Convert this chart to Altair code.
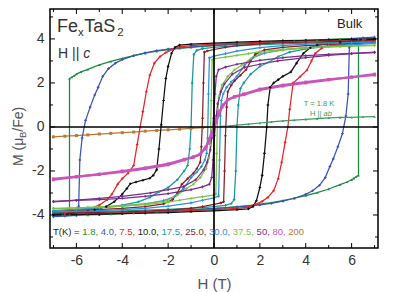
import altair as alt
import pandas as pd

F = "Liberation Sans"

# ---------------- data ----------------
T_NAMES = ["200", "1.8", "4.0", "7.5", "10.0", "17.5", "25.0", "30.0", "37.5", "50", "80", "ab"]
T_COLORS = ["#b87a35", "#1b8a3d", "#3a55b5", "#e8262b", "#111111", "#179b98",
            "#8b1e24", "#2b93d6", "#7cc243", "#7b2b8f", "#c955ba", "#3d9a5e"]

H200 = [-7.0, -6.5, -6.0, -5.5, -5.0, -4.5, -4.0, -3.5, -3.0, -2.5, -2.0, -1.5, -1.0, -0.5, 0.0]
M200 = [-0.45, -0.42, -0.39, -0.36, -0.32, -0.29, -0.26, -0.23, -0.19, -0.16, -0.13, -0.1, -0.06, -0.03, 0.0]

H18u = [7.0, 6.5, 6.0, 5.5, 5.0, 4.5, 4.0, 3.5, 3.0, 2.5, 2.0, 1.5, 1.0, 0.5, 0.0, -0.5, -1.0, -1.5, -2.0, -2.5,
        -3.0, -3.5, -4.0, -4.5, -5.0, -5.5, -5.8, -6.0, -6.1, -6.2, -6.3, -6.3, -6.6, -7.0]
M18u = [4.03, 4.02, 4.01, 4.0, 3.98, 3.96, 3.94, 3.91, 3.88, 3.85, 3.82, 3.79, 3.76, 3.73, 3.7, 3.66, 3.62, 3.57, 3.51, 3.44,
        3.35, 3.24, 3.12, 2.98, 2.82, 2.62, 2.5, 2.4, 2.33, 2.26, 2.2, -3.98, -4.0, -4.03]
H18d = [-7.0, -6.5, -6.0, -5.5, -5.0, -4.5, -4.0, -3.5, -3.0, -2.5, -2.0, -1.5, -1.0, -0.5, 0.0, 0.5, 1.0, 1.5, 2.0, 2.5,
        3.0, 3.5, 4.0, 4.5, 5.0, 5.5, 5.8, 6.0, 6.1, 6.2, 6.3, 6.3, 6.6, 7.0]
M18d = [-4.03, -4.02, -4.01, -4.0, -3.98, -3.96, -3.94, -3.91, -3.88, -3.85, -3.82, -3.79, -3.76, -3.73, -3.7, -3.66, -3.62, -3.57, -3.51, -3.44,
        -3.35, -3.24, -3.12, -2.98, -2.82, -2.62, -2.5, -2.4, -2.33, -2.26, -2.2, 3.98, 4.0, 4.03]

H40u = [7.0, 6.0, 5.0, 4.0, 3.0, 2.0, 1.0, 0.0, -1.0, -2.0, -2.5, -3.0, -3.5, -4.0, -4.3, -4.6, -4.85, -5.05, -5.2, -5.4,
        -5.6, -5.75, -5.85, -5.9, -6.0, -6.5, -7.0]
M40u = [4.0, 3.98, 3.95, 3.92, 3.88, 3.83, 3.77, 3.71, 3.64, 3.54, 3.47, 3.37, 3.24, 3.06, 2.9, 2.65, 2.3, 1.8, 1.45, 0.9,
        0.3, -0.5, -1.5, -3.6, -4.02, -4.05, -4.08]
H40d = [-7.0, -6.0, -5.0, -4.0, -3.0, -2.0, -1.0, 0.0, 1.0, 2.0, 2.5, 3.0, 3.5, 4.0, 4.3, 4.6, 4.85, 5.05, 5.2, 5.4,
        5.6, 5.75, 5.85, 5.9, 6.0, 6.5, 7.0]
M40d = [-4.0, -3.98, -3.95, -3.92, -3.88, -3.83, -3.77, -3.71, -3.64, -3.54, -3.47, -3.37, -3.24, -3.06, -2.9, -2.65, -2.3, -1.8, -1.45, -0.9,
        -0.3, 0.5, 1.5, 3.6, 4.02, 4.05, 4.08]

H75u = [7.0, 6.0, 5.0, 4.0, 3.0, 2.0, 1.0, 0.0, -1.0, -1.5, -1.8, -2.1, -2.35, -2.6, -2.8, -2.95, -3.1, -3.22, -3.35, -3.5,
        -3.75, -4.0, -4.2, -4.45, -4.65, -5.0, -5.5, -6.0, -6.5, -7.0]
M75u = [3.96, 3.95, 3.93, 3.91, 3.88, 3.84, 3.8, 3.76, 3.7, 3.64, 3.52, 3.38, 3.2, 2.9, 2.35, 1.6, 0.7, 0.0, -0.8, -1.75,
        -2.1, -2.35, -2.6, -3.05, -3.3, -3.55, -3.75, -3.88, -3.94, -3.99]
H75d = [-7.0, -6.0, -5.0, -4.0, -3.0, -2.0, -1.0, 0.0, 1.0, 1.5, 1.8, 2.1, 2.35, 2.6, 2.8, 2.95, 3.1, 3.22, 3.3, 3.45,
        3.75, 4.05, 4.25, 4.42, 4.7, 5.0, 5.5, 6.0, 6.5, 7.0]
M75d = [-3.96, -3.95, -3.93, -3.91, -3.88, -3.84, -3.8, -3.76, -3.7, -3.64, -3.52, -3.38, -3.2, -2.9, -2.35, -1.6, -0.7, 0.0, 0.8, 2.0,
        2.28, 2.58, 3.0, 3.35, 3.58, 3.7, 3.8, 3.88, 3.94, 3.99]

H10u = [7.0, 6.0, 5.0, 4.0, 3.0, 2.0, 1.0, 0.0, -1.0, -1.5, -1.7, -1.85, -2.0, -2.1, -2.2, -2.3, -2.4, -2.5, -2.65, -2.8,
        -3.1, -3.4, -3.65, -3.8, -4.0, -4.35, -4.7, -5.2, -6.0, -7.0]
M10u = [3.99, 3.98, 3.96, 3.94, 3.92, 3.89, 3.85, 3.81, 3.76, 3.72, 3.62, 3.35, 2.75, 2.2, 1.2, 0.1, -1.0, -1.95, -2.2, -2.33,
        -2.42, -2.5, -2.58, -2.8, -3.05, -3.4, -3.62, -3.76, -3.9, -3.98]
H10d = [-7.0, -6.0, -5.0, -4.0, -3.0, -2.0, -1.0, 0.0, 1.0, 1.5, 1.7, 1.85, 2.0, 2.1, 2.2, 2.3, 2.35, 2.45, 2.6, 2.8,
        3.0, 3.35, 3.6, 3.9, 4.2, 4.5, 5.0, 5.5, 6.0, 7.0]
M10d = [-3.99, -3.98, -3.96, -3.94, -3.92, -3.89, -3.85, -3.81, -3.76, -3.72, -3.62, -3.35, -2.75, -2.2, -1.2, 0.0, 1.0, 1.8, 2.0, 2.15,
        2.3, 2.5, 2.9, 3.35, 3.6, 3.72, 3.8, 3.86, 3.9, 3.98]

H175u = [7.0, 6.0, 5.0, 4.0, 3.0, 2.0, 1.0, 0.5, 0.0, -0.5, -0.75, -0.88, -0.95, -1.0, -1.06, -1.15, -1.3, -1.6, -2.0, -2.4,
         -2.8, -3.3, -4.0, -5.0, -6.0, -7.0]
M175u = [3.88, 3.86, 3.84, 3.81, 3.78, 3.74, 3.69, 3.66, 3.62, 3.56, 3.48, 3.3, 2.0, 0.0, -1.0, -1.75, -2.0, -2.4, -2.75, -2.95,
         -3.2, -3.4, -3.55, -3.68, -3.78, -3.86]
H175d = [-7.0, -6.0, -5.0, -4.0, -3.0, -2.0, -1.0, -0.5, 0.0, 0.5, 0.75, 0.88, 0.95, 1.0, 1.06, 1.15, 1.3, 1.6, 2.0, 2.4,
         2.8, 3.3, 4.0, 5.0, 6.0, 7.0]
M175d = [-3.88, -3.86, -3.84, -3.81, -3.78, -3.74, -3.69, -3.66, -3.62, -3.56, -3.48, -3.3, -2.0, 0.0, 1.0, 1.75, 2.0, 2.4, 2.75, 2.95,
         3.2, 3.4, 3.55, 3.68, 3.78, 3.86]

H25u = [7.0, 6.0, 5.0, 4.0, 3.0, 2.0, 1.0, 0.5, 0.0, -0.3, -0.42, -0.46, -0.5, -0.55, -0.6, -0.75, -0.9, -1.15, -1.4, -1.6,
        -1.8, -2.2, -3.0, -4.0, -5.5, -7.0]
M25u = [3.92, 3.9, 3.88, 3.86, 3.83, 3.78, 3.7, 3.62, 3.52, 3.45, 3.4, 2.0, 0.4, -0.9, -1.6, -1.9, -2.1, -2.35, -2.6, -3.0,
        -3.3, -3.5, -3.62, -3.7, -3.78, -3.84]
H25d = [-7.0, -6.0, -5.0, -4.0, -3.0, -2.0, -1.0, -0.5, 0.0, 0.3, 0.42, 0.46, 0.5, 0.55, 0.6, 0.75, 0.9, 1.15, 1.4, 1.6,
        1.8, 2.2, 3.0, 4.0, 5.5, 7.0]
M25d = [-3.92, -3.9, -3.88, -3.86, -3.83, -3.78, -3.7, -3.62, -3.52, -3.45, -3.4, -2.0, -0.4, 0.9, 1.6, 1.9, 2.1, 2.35, 2.6, 3.0,
        3.3, 3.5, 3.62, 3.7, 3.78, 3.84]

H30u = [7.0, 6.0, 5.0, 4.0, 3.0, 2.0, 1.0, 0.5, 0.0, -0.2, -0.24, -0.28, -0.32, -0.4, -0.55, -0.75, -1.0, -1.33, -1.7, -2.2,
        -3.0, -4.0, -5.5, -7.0]
M30u = [3.85, 3.83, 3.8, 3.76, 3.7, 3.6, 3.45, 3.33, 3.22, 3.14, 1.5, -0.5, -1.2, -1.5, -1.8, -2.05, -2.3, -2.8, -3.15, -3.35,
        -3.5, -3.6, -3.7, -3.8]
H30d = [-7.0, -6.0, -5.0, -4.0, -3.0, -2.0, -1.0, -0.5, 0.0, 0.2, 0.24, 0.28, 0.32, 0.4, 0.55, 0.75, 1.0, 1.33, 1.7, 2.2,
        3.0, 4.0, 5.5, 7.0]
M30d = [-3.85, -3.83, -3.8, -3.76, -3.7, -3.6, -3.45, -3.33, -3.22, -3.14, -1.5, 0.5, 1.2, 1.5, 1.8, 2.05, 2.3, 2.8, 3.15, 3.35,
        3.5, 3.6, 3.7, 3.8]

H375u = [7.0, 6.0, 5.0, 4.0, 3.0, 2.0, 1.5, 1.0, 0.5, 0.0, -0.08, -0.12, -0.16, -0.22, -0.35, -0.6, -0.9, -1.2, -1.6, -2.05,
         -3.0, -4.0, -5.5, -7.0]
M375u = [3.7, 3.68, 3.65, 3.6, 3.53, 3.42, 3.33, 3.25, 3.17, 3.1, 3.05, 1.2, -0.8, -1.4, -1.9, -2.3, -2.6, -2.8, -3.1, -3.35,
         -3.5, -3.58, -3.65, -3.72]
H375d = [-7.0, -6.0, -5.0, -4.0, -3.0, -2.0, -1.5, -1.0, -0.5, 0.0, 0.08, 0.12, 0.16, 0.22, 0.35, 0.6, 0.9, 1.2, 1.6, 2.05,
         3.0, 4.0, 5.5, 7.0]
M375d = [-3.7, -3.68, -3.65, -3.6, -3.53, -3.42, -3.33, -3.25, -3.17, -3.1, -3.05, -1.2, 0.8, 1.4, 1.9, 2.3, 2.6, 2.8, 3.1, 3.35,
         3.5, 3.58, 3.65, 3.72]

H50u = [7.0, 6.0, 5.0, 4.0, 3.0, 2.0, 1.0, 0.5, 0.2, 0.1, 0.04, -0.02, -0.1, -0.16, -0.3, -0.45, -0.8, -1.33, -2.0, -2.77,
        -4.0, -5.0, -6.0, -7.0]
M50u = [3.38, 3.34, 3.3, 3.24, 3.15, 3.03, 2.85, 2.72, 2.6, 2.3, 1.5, 0.4, -0.5, -1.05, -1.6, -1.95, -2.4, -2.71, -2.85, -3.0,
        -3.15, -3.25, -3.33, -3.4]
H50d = [-7.0, -6.0, -5.0, -4.0, -3.0, -2.0, -1.0, -0.5, -0.2, -0.1, -0.04, 0.02, 0.1, 0.16, 0.3, 0.45, 0.8, 1.33, 2.0, 2.77,
        4.0, 5.0, 6.0, 7.0]
M50d = [-3.38, -3.34, -3.3, -3.24, -3.15, -3.03, -2.85, -2.72, -2.6, -2.3, -1.5, -0.4, 0.5, 1.05, 1.6, 1.95, 2.4, 2.71, 2.85, 3.0,
        3.15, 3.25, 3.33, 3.4]

H80u = [7.0, 6.0, 5.0, 4.0, 3.0, 2.0, 1.3, 0.9, 0.6, 0.4, 0.25, 0.12, 0.0, -0.1, -0.2, -0.35, -0.6, -0.9, -1.3, -2.0,
        -3.0, -4.0, -5.0, -6.0, -7.0]
M80u = [2.36, 2.26, 2.16, 2.04, 1.9, 1.72, 1.5, 1.38, 1.24, 1.0, 0.72, 0.4, 0.1, -0.25, -0.55, -0.9, -1.24, -1.36, -1.47, -1.68,
        -1.86, -2.0, -2.14, -2.27, -2.4]
H80d = [-7.0, -6.0, -5.0, -4.0, -3.0, -2.0, -1.3, -0.9, -0.6, -0.4, -0.25, -0.12, 0.0, 0.1, 0.2, 0.35, 0.6, 0.9, 1.3, 2.0,
        3.0, 4.0, 5.0, 6.0, 7.0]
M80d = [-2.36, -2.26, -2.16, -2.04, -1.9, -1.72, -1.5, -1.38, -1.24, -1.0, -0.72, -0.4, -0.1, 0.25, 0.55, 0.9, 1.24, 1.36, 1.47, 1.68,
        1.86, 2.0, 2.14, 2.27, 2.4]

Hab = [0.3, 0.7, 1.0, 1.5, 2.0, 2.5, 3.0, 3.5, 4.0, 4.5, 5.0, 5.5, 6.0, 6.5, 7.0]
Mab = [0.03, 0.05, 0.08, 0.13, 0.18, 0.23, 0.28, 0.31, 0.35, 0.38, 0.41, 0.43, 0.44, 0.46, 0.47]

XMAJ = [-6, -4, -2, 0, 2, 4, 6]
XMIN = [-7, -5, -3, -1, 1, 3, 5, 7]
YMAJ = [-4, -2, 0, 2, 4]
YMIN = [-5, -3, -1, 1, 3, 5]

LEGEND_TOKENS = ["T(K) = ", "1.8, ", "4.0, ", "7.5, ", "10.0, ", "17.5, ", "25.0, ", "30.0, ", "37.5, ", "50, ", "80, ", "200"]
LEGEND_COLORS = ["#222222", "#1b8a3d", "#3a55b5", "#e8262b", "#222222", "#179b98",
                 "#8b1e24", "#2b93d6", "#7cc243", "#7b2b8f", "#c955ba", "#b87a35"]

# ---------------- build table ----------------
curves = [
    ("200", [(H200, M200)]),
    ("1.8", [(H18u, M18u), (H18d, M18d)]),
    ("4.0", [(H40u, M40u), (H40d, M40d)]),
    ("7.5", [(H75u, M75u), (H75d, M75d)]),
    ("10.0", [(H10u, M10u), (H10d, M10d)]),
    ("17.5", [(H175u, M175u), (H175d, M175d)]),
    ("25.0", [(H25u, M25u), (H25d, M25d)]),
    ("30.0", [(H30u, M30u), (H30d, M30d)]),
    ("37.5", [(H375u, M375u), (H375d, M375d)]),
    ("50", [(H50u, M50u), (H50d, M50d)]),
    ("80", [(H80u, M80u), (H80d, M80d)]),
    ("ab", [(Hab, Mab)]),
]
rows = []
for name, branches in curves:
    for b, (hs, ms) in enumerate(branches):
        for i, (h, m) in enumerate(zip(hs, ms)):
            rows.append({
                "H": h, "M": m, "T": name, "key": f"{name}_{b}", "i": i,
                "sw": 2.2 if name == "80" else 1.25,
                "shp": "square" if name in ("200", "80") else ("triangle-up" if name in ("ab", "1.8") else "cross"),
                "sz": 9 if name in ("200", "80") else 7,
            })
df = pd.DataFrame(rows)

W, HGT = 328, 239
xs = alt.Scale(domain=[-7.15, 7.15], nice=False, zero=False)
ys = alt.Scale(domain=[-5.5, 5.36], nice=False, zero=False)
LBL = "datum.value < 0 ? '-' + abs(datum.value) : '' + datum.value"
xaxis = alt.Axis(values=XMAJ, labelExpr=LBL, title="H (T)", grid=False, ticks=False, tickSize=0, domain=False,
                 labelFont=F, labelFontSize=14, labelColor="#333333", labelPadding=5,
                 titleFont=F, titleFontSize=15, titleFontWeight="normal", titleColor="#555555", titlePadding=9)
yaxis = alt.Axis(values=YMAJ, labelExpr=LBL, title=None, grid=False, ticks=False, tickSize=0, domain=False,
                 labelFont=F, labelFontSize=14, labelColor="#333333", labelPadding=6)


def X(f):
    return alt.X(f, scale=xs, axis=xaxis)


def Y(f):
    return alt.Y(f, scale=ys, axis=yaxis)


color = alt.Color("T:N", scale=alt.Scale(domain=T_NAMES, range=T_COLORS), legend=None)

lines = alt.Chart(df).mark_line(clip=True).encode(
    x=X("H:Q"), y=Y("M:Q"), color=color, detail="key:N", order="i:Q",
    strokeWidth=alt.StrokeWidth("sw:Q", scale=None))
points = alt.Chart(df).mark_point(filled=True, opacity=1, clip=True).encode(
    x=X("H:Q"), y=Y("M:Q"), color=color,
    shape=alt.Shape("shp:N", scale=None), size=alt.Size("sz:Q", scale=None))

one = pd.DataFrame({"a": [0]})
zero_v = alt.Chart(one).mark_rule(color="black", strokeWidth=1.7).encode(x=alt.datum(0, scale=xs, axis=xaxis))
zero_h = alt.Chart(one).mark_rule(color="black", strokeWidth=1.5).encode(y=alt.datum(0, scale=ys, axis=yaxis))


def xticks(vals, ln):
    d = pd.DataFrame({"v": vals})
    b = alt.Chart(d).mark_rule(color="black", strokeWidth=1)
    return [b.encode(x=X("v:Q"), y=alt.value(HGT), y2=alt.value(HGT - ln)),
            b.encode(x=X("v:Q"), y=alt.value(0), y2=alt.value(ln))]


def yticks(vals, ln):
    d = pd.DataFrame({"v": vals})
    b = alt.Chart(d).mark_rule(color="black", strokeWidth=1)
    return [b.encode(y=Y("v:Q"), x=alt.value(0), x2=alt.value(ln)),
            b.encode(y=Y("v:Q"), x=alt.value(W - ln), x2=alt.value(W))]


def txt(s, x, y, size, color="#222222", align="left", baseline="alphabetic", style="normal", angle=0):
    return alt.Chart(one).mark_text(text=s, font=F, fontSize=size, color=color, align=align,
                                    baseline=baseline, fontStyle=style, angle=angle).encode(
        x=alt.value(x), y=alt.value(y))


AW = {"0": .556, "1": .556, "2": .556, "3": .556, "4": .556, "5": .556, "6": .556, "7": .556, "8": .556, "9": .556,
      ".": .278, ",": .278, " ": .278, "T": .611, "(": .333, ")": .333, "K": .667, "=": .584, "F": .611, "e": .556,
      "a": .556, "S": .667, "H": .722, "|": .26, "M": .833, "/": .278, "x": .5, "b": .556, "B": .667}


def tw(s, size):
    return sum(AW.get(c, 0.556) for c in s) * size


texts = []
# title Fe_x TaS_2
cx = 7
texts.append(txt("Fe", cx, 23, 18, "#333333")); cx += tw("Fe", 18)
texts.append(txt("x", cx, 27, 11.5, "#333333")); cx += tw("x", 11.5) + 0.5
texts.append(txt("TaS", cx, 23, 18, "#333333")); cx += tw("TaS", 18)
texts.append(txt("2", cx, 27, 11.5, "#333333"))
# H || c
texts.append(txt("H || ", 8, 49, 14, "#333333"))
texts.append(txt("c", 8 + tw("H || ", 14), 49, 14, "#333333", style="italic"))
# Bulk
texts.append(txt("Bulk", 287, 19, 13, "#222222"))
# H || ab annotation
texts.append(txt("T = 1.8 K", 269, 95, 7.5, "#3d9a5e", align="center", baseline="middle"))
w1, w2 = tw("H || ", 7.5), tw("ab", 7.5)
sx = 271 - (w1 + w2) / 2
texts.append(txt("H || ", sx, 105, 7.5, "#3d9a5e", baseline="middle"))
texts.append(txt("ab", sx + w1, 105, 7.5, "#3d9a5e", baseline="middle", style="italic"))
# temperature legend line
lx = 3
for tok, col in zip(LEGEND_TOKENS, LEGEND_COLORS):
    texts.append(txt(tok, lx, 223, 9.5, col, baseline="middle"))
    lx += tw(tok, 9.5)
# y axis title M (mu_B/Fe), rotated
yy = 157
texts.append(txt("M (μ", -31, yy, 14, "#555555", baseline="middle", angle=270)); yy -= tw("M (μ", 14)
texts.append(txt("B", -27, yy, 9.5, "#555555", baseline="middle", angle=270)); yy -= tw("B", 9.5)
texts.append(txt("/Fe)", -31, yy, 14, "#555555", baseline="middle", angle=270))

layers = [lines, points, zero_v, zero_h] + xticks(XMAJ, 5) + xticks(XMIN, 3) + yticks(YMAJ, 5) + yticks(YMIN, 3) + texts

chart = alt.layer(*layers).properties(
    width=W, height=HGT,
    padding={"left": 42, "top": 1, "right": 20, "bottom": 44},
    autosize=alt.AutoSizeParams(type="none"),
).configure_view(stroke="black", strokeWidth=1.5)

chart.save("out.html", embed_options={"renderer": "svg", "actions": False})
